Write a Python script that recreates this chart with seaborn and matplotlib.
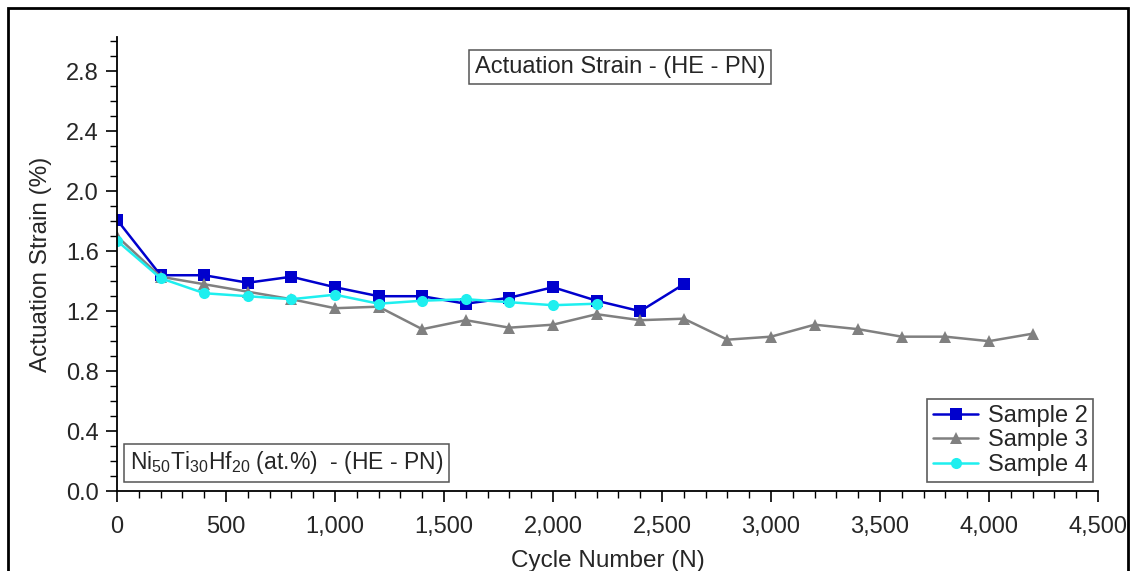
import numpy as np
import pandas as pd
import matplotlib
matplotlib.use("Agg")
import matplotlib.pyplot as plt
import seaborn as sns
from matplotlib.ticker import MultipleLocator, FuncFormatter
from matplotlib.patches import Rectangle

cycles_s2 = [0, 200, 400, 600, 800, 1000, 1200, 1400, 1600, 1800, 2000, 2200, 2400, 2600]
strain_s2 = [1.81, 1.44, 1.44, 1.39, 1.43, 1.36, 1.30, 1.30, 1.25, 1.29, 1.36, 1.27, 1.20, 1.38]

cycles_s3 = [0, 200, 400, 600, 800, 1000, 1200, 1400, 1600, 1800, 2000, 2200, 2400,
             2600, 2800, 3000, 3200, 3400, 3600, 3800, 4000, 4200]
strain_s3 = [1.70, 1.43, 1.38, 1.33, 1.28, 1.22, 1.23, 1.08, 1.14, 1.09, 1.11, 1.18, 1.14,
             1.15, 1.01, 1.03, 1.11, 1.08, 1.03, 1.03, 1.00, 1.05]

cycles_s4 = [0, 200, 400, 600, 800, 1000, 1200, 1400, 1600, 1800, 2000, 2200]
strain_s4 = [1.67, 1.42, 1.32, 1.30, 1.28, 1.31, 1.25, 1.27, 1.28, 1.26, 1.24, 1.25]

series_names = ["Sample 2", "Sample 3", "Sample 4"]

df = pd.concat([
    pd.DataFrame({"cycle": cycles_s2, "strain": strain_s2, "sample": series_names[0]}),
    pd.DataFrame({"cycle": cycles_s3, "strain": strain_s3, "sample": series_names[1]}),
    pd.DataFrame({"cycle": cycles_s4, "strain": strain_s4, "sample": series_names[2]}),
], ignore_index=True)

sns.set_theme(style="white")
plt.rcParams["font.family"] = ["Liberation Sans", "DejaVu Sans"]
plt.rcParams["mathtext.fontset"] = "custom"
plt.rcParams["mathtext.rm"] = "Liberation Sans"
plt.rcParams["mathtext.it"] = "Liberation Sans"

fig = plt.figure(figsize=(11.34, 5.71), dpi=100)
ax = fig.add_axes([117/1134, 1 - 491/571, (1098 - 117)/1134, (491 - 37)/571])

palette = {"Sample 2": "#0000CD", "Sample 3": "#808080", "Sample 4": "#1EEFEF"}
markers = {"Sample 2": "s", "Sample 3": "^", "Sample 4": "o"}
sns.lineplot(data=df, x="cycle", y="strain", hue="sample", style="sample",
             palette=palette, markers=markers, dashes=False, ax=ax,
             linewidth=1.8, markersize=8, markeredgewidth=0, legend=True)

ax.set_xlim(0, 4500)
ax.set_ylim(0, 3.03)
ax.xaxis.set_major_locator(MultipleLocator(500))
ax.xaxis.set_minor_locator(MultipleLocator(100))
ax.yaxis.set_major_locator(MultipleLocator(0.4))
ax.yaxis.set_minor_locator(MultipleLocator(0.1))
ax.xaxis.set_major_formatter(FuncFormatter(lambda v, p: f"{int(v):,}"))
ax.yaxis.set_major_formatter(FuncFormatter(lambda v, p: f"{v:.1f}"))

for s in ["top", "right"]:
    ax.spines[s].set_visible(False)
for s in ["left", "bottom"]:
    ax.spines[s].set_color("black")
    ax.spines[s].set_linewidth(1.3)

ax.tick_params(axis="both", which="major", direction="out", length=8, width=1.2,
               labelsize=17, color="black", bottom=True, left=True, pad=5)
ax.tick_params(axis="x", which="major", pad=10)
ax.tick_params(axis="both", which="minor", direction="out", length=5, width=1.0,
               color="black", bottom=True, left=True)

ax.set_xlabel("Cycle Number (N)", fontsize=17.5, labelpad=9)
ax.set_ylabel("Actuation Strain (%)", fontsize=17.5, labelpad=10)

leg = ax.legend(loc="lower right", bbox_to_anchor=(1.0, 0.01), fontsize=17,
                frameon=True, fancybox=False, edgecolor="#333333",
                handlelength=1.9, borderpad=0.25, labelspacing=0.1, handletextpad=0.4,
                borderaxespad=0.2)
leg.get_frame().set_linewidth(1.2)
leg.set_title(None)

ax.text(0.513, 0.934, "Actuation Strain - (HE - PN)", transform=ax.transAxes,
        ha="center", va="center", fontsize=17,
        bbox=dict(boxstyle="square,pad=0.25", facecolor="white", edgecolor="#555555", linewidth=1.1))

ax.text(0.013, 0.062, r"Ni$_{50}$Ti$_{30}$Hf$_{20}$ (at.%)  - (HE - PN)", transform=ax.transAxes,
        ha="left", va="center", fontsize=16.5,
        bbox=dict(boxstyle="square,pad=0.25", facecolor="white", edgecolor="#555555", linewidth=1.1))

fig.patches.append(Rectangle((8/1134, -0.1), (1128 - 8)/1134, 1.1 - 8/571,
                             transform=fig.transFigure, fill=False,
                             edgecolor="black", linewidth=2, zorder=0))

fig.savefig("out.png", dpi=100)
